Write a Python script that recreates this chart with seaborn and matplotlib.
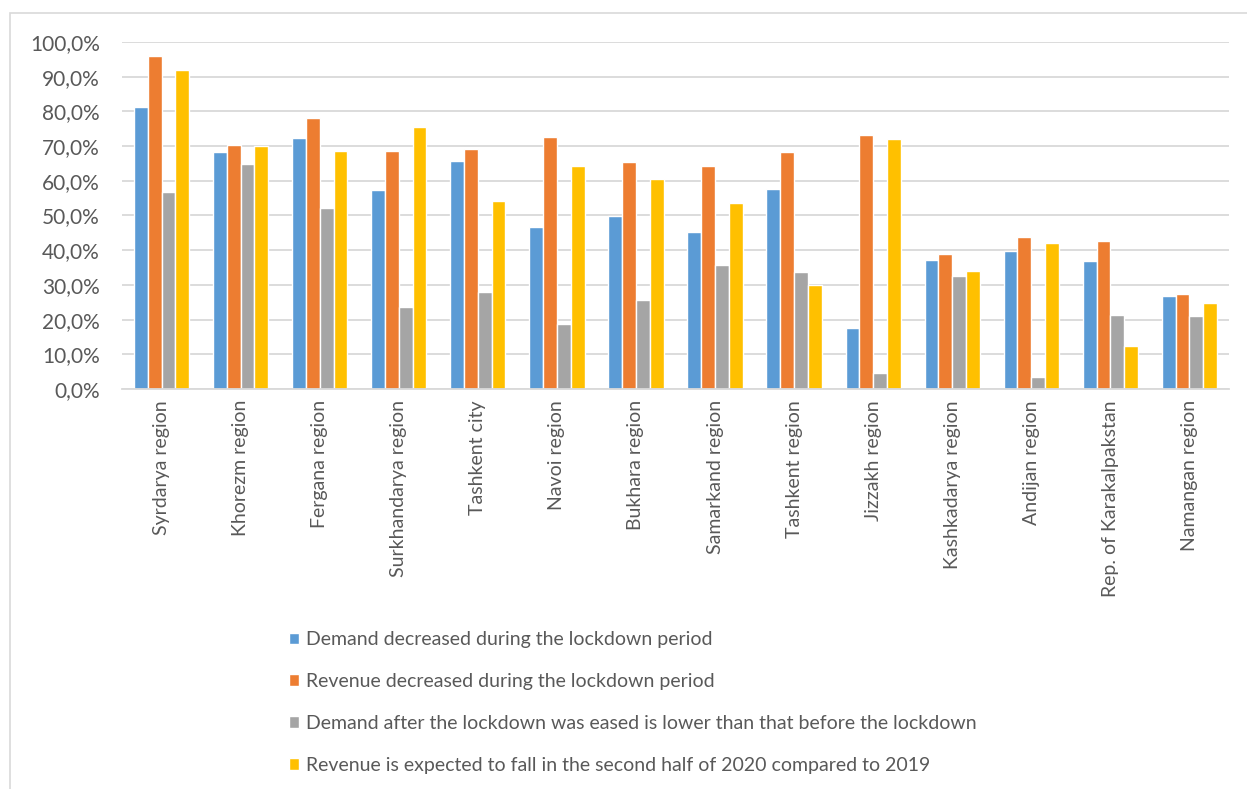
import numpy as np
import pandas as pd
import matplotlib
matplotlib.use("Agg")
import matplotlib.pyplot as plt
import seaborn as sns
from matplotlib.patches import Rectangle
from matplotlib.ticker import FuncFormatter, MultipleLocator

regions = [
    "Syrdarya region", "Khorezm region", "Fergana region", "Surkhandarya region",
    "Tashkent city", "Navoi region", "Bukhara region", "Samarkand region",
    "Tashkent region", "Jizzakh region", "Kashkadarya region", "Andijan region",
    "Rep. of Karakalpakstan", "Namangan region",
]

demand_lockdown = [81.3, 68.2, 72.2, 57.3, 65.6, 46.6, 49.8, 45.3, 57.7, 17.7, 37.2, 39.9, 37.0, 26.7]
revenue_lockdown = [95.9, 70.4, 78.0, 68.5, 69.2, 72.5, 65.3, 64.4, 68.3, 73.1, 39.0, 43.8, 42.6, 27.4]
demand_after = [56.9, 64.7, 52.2, 23.5, 28.0, 18.8, 25.7, 35.6, 33.6, 4.6, 32.7, 3.6, 21.3, 21.1]
revenue_expected = [91.8, 69.9, 68.5, 75.5, 54.1, 64.4, 60.4, 53.6, 30.0, 72.0, 34.1, 42.2, 12.5, 24.7]

series_names = [
    "Demand decreased during the lockdown period",
    "Revenue decreased during the lockdown period",
    "Demand after the lockdown was eased is lower than that before the lockdown",
    "Revenue is expected to fall in the second half of 2020 compared to 2019",
]
series_values = [demand_lockdown, revenue_lockdown, demand_after, revenue_expected]
colors = ["#5B9BD5", "#ED7D31", "#A5A5A5", "#FFC000"]

frames = []
for name, vals in zip(series_names, series_values):
    frames.append(pd.DataFrame({"region": regions, "value": vals, "series": name}))
df = pd.concat(frames, ignore_index=True)

sns.set_theme(style="white")
plt.rcParams["font.family"] = ["Lato", "DejaVu Sans"]
text_color = "#595959"
grid_color = "#D9D9D9"

fig = plt.figure(figsize=(12.47, 7.89), dpi=100)
ax = fig.add_axes([122 / 1247, 1 - 389 / 789, (1229 - 122) / 1247, (389 - 42) / 789])

sns.barplot(
    data=df, x="region", y="value", hue="series", order=regions,
    hue_order=series_names, palette=colors, width=0.7,
    edgecolor="white", linewidth=1.0, saturation=1, ax=ax, errorbar=None,
)

ax.set_ylim(0, 100)
ax.set_xlim(-0.5, len(regions) - 0.5)
ax.yaxis.set_major_locator(MultipleLocator(10))
ax.yaxis.set_major_formatter(FuncFormatter(lambda v, _: f"{v:.1f}%".replace(".", ",")))
ax.grid(axis="y", color=grid_color, linewidth=1.3)
ax.set_axisbelow(True)
for side in ["top", "right", "left"]:
    ax.spines[side].set_visible(False)
ax.spines["bottom"].set_color(grid_color)
ax.spines["bottom"].set_linewidth(1.3)
ax.tick_params(axis="both", length=0, colors=text_color)
ax.tick_params(axis="y", labelsize=15, pad=16)
ax.tick_params(axis="x", labelsize=14, pad=8)
plt.setp(ax.get_xticklabels(), rotation=90, ha="center", va="top")
ax.set_xlabel("")
ax.set_ylabel("")

handles, labels = ax.get_legend_handles_labels()
ax.get_legend().remove()
fig.legend(
    handles, labels, loc="upper left", bbox_to_anchor=(271 / 1247, 1 - 614 / 789),
    frameon=False, fontsize=14, labelcolor=text_color, handlelength=0.55,
    handleheight=0.55, handletextpad=0.35, labelspacing=1.27,
)

fig.add_artist(Rectangle(
    (10 / 1247, -0.2), 1.5, 1.2 - 13 / 789, transform=fig.transFigure,
    fill=False, edgecolor=grid_color, linewidth=1.2,
))

fig.savefig("out.png", dpi=100, facecolor="white")
